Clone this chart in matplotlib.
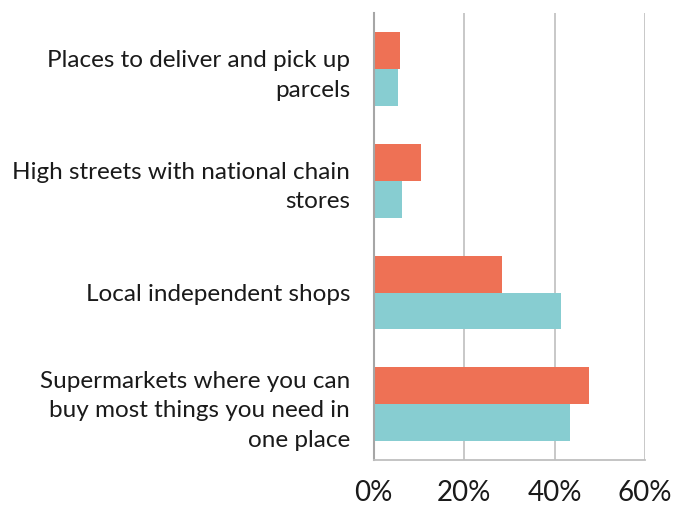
import numpy as np
import matplotlib.pyplot as plt

# data
categories = ["Places to deliver and pick up\nparcels",
              "High streets with national chain\nstores",
              "Local independent shops",
              "Supermarkets where you can\nbuy most things you need in\none place"]
orange_vals = [5.7, 10.5, 28.4, 47.6]
teal_vals = [5.4, 6.3, 41.3, 43.3]
xticks = [0, 20, 40, 60]

plt.rcParams['font.family'] = ['Lato', 'DejaVu Sans']

fig = plt.figure(figsize=(6.87, 5.09), dpi=100)
ax = fig.add_axes([0.544, 0.096, 0.395, 0.878])

y = np.arange(len(categories))
h = 0.33
ax.barh(y - h / 2, orange_vals, height=h, color='#EE7155')
ax.barh(y + h / 2, teal_vals, height=h, color='#87CDD1')

ax.set_ylim(len(categories) - 0.5, -0.5)
ax.set_xlim(0, 60)
ax.set_yticks(y)
ax.set_yticklabels(categories, fontsize=17.5, color='#1a1a1a', linespacing=1.5)
ax.set_xticks(xticks)
ax.set_xticklabels(["{}%".format(t) for t in xticks], fontsize=20, color='#1a1a1a')
ax.tick_params(axis='y', length=0, pad=17)
ax.tick_params(axis='x', length=0, pad=14)

ax.grid(axis='x', color='#c4c4c4', linewidth=1.3)
ax.set_axisbelow(True)
for s in ['top', 'right']:
    ax.spines[s].set_visible(False)
ax.spines['left'].set_color('#a6a6a6')
ax.spines['left'].set_linewidth(1.5)
ax.spines['bottom'].set_color('#bfbfbf')
ax.spines['bottom'].set_linewidth(1.3)

fig.savefig('out.png', dpi=100)
